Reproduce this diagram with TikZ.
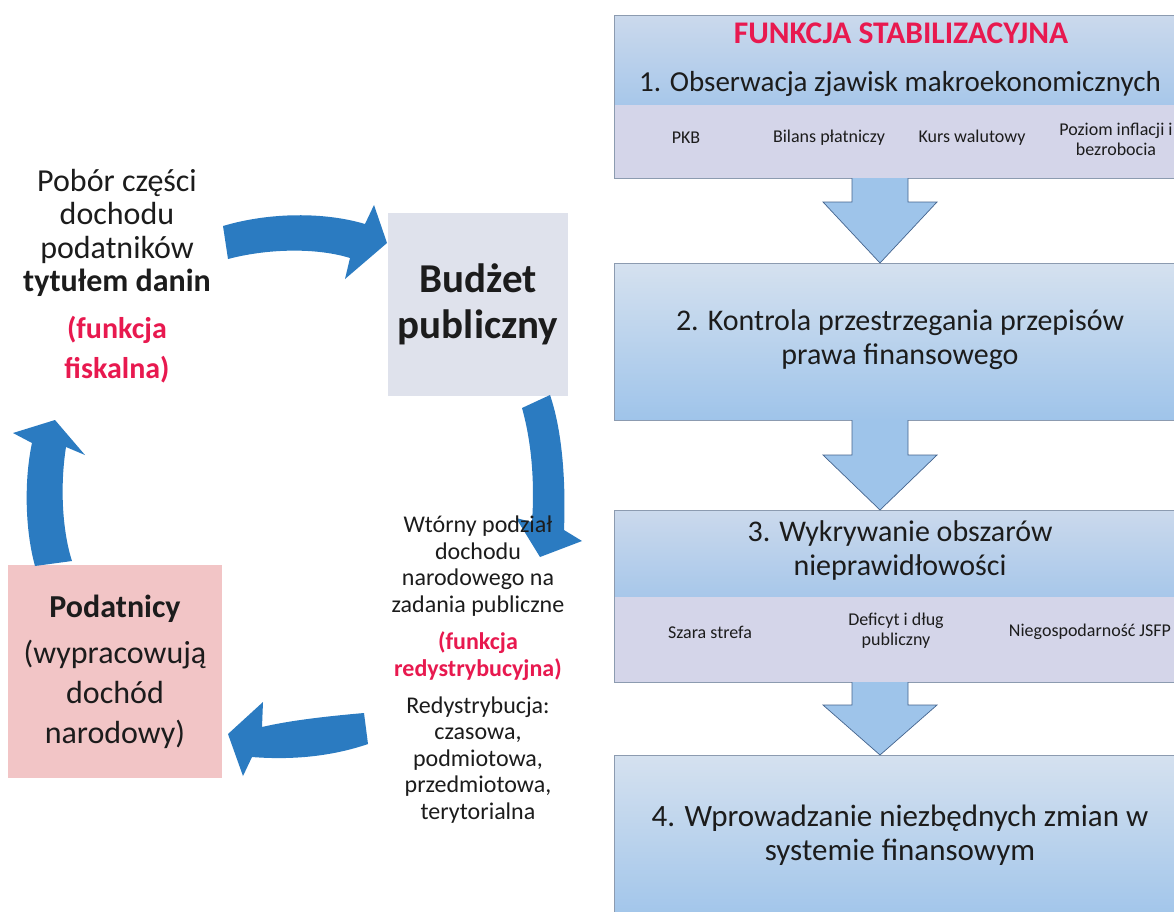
\documentclass[tikz,border=0pt]{standalone}
\usepackage{fontspec}
\setmainfont{Carlito}
\usetikzlibrary{calc}
\definecolor{ink}{HTML}{1C1C1C}
\definecolor{accent}{HTML}{E8194F}
\definecolor{flow}{HTML}{2B7BC1}
\definecolor{budget}{HTML}{DFE2EC}
\definecolor{payers}{HTML}{F2C5C6}
\definecolor{headtop}{HTML}{CBD9EC}
\definecolor{headbot}{HTML}{A7C7EA}
\definecolor{band}{HTML}{D4D5E9}
\definecolor{bodytop}{HTML}{D5E1EF}
\definecolor{bodybot}{HTML}{9FC4EA}
\definecolor{framec}{HTML}{8C9BB0}
\definecolor{stepfill}{HTML}{9EC4EA}
\definecolor{stepline}{HTML}{44648E}
\begin{document}
\begin{tikzpicture}[x=1pt,y=-1pt,
  header/.style={rectangle, anchor=north west, inner sep=0pt, outer sep=0pt,
    minimum width=572pt, top color=headtop, bottom color=headbot},
  bandbox/.style={rectangle, anchor=north west, inner sep=0pt, outer sep=0pt,
    minimum width=572pt, fill=band},
  bodybox/.style={rectangle, anchor=north west, inner sep=0pt, outer sep=0pt,
    minimum width=572pt, top color=bodytop, bottom color=bodybot},
  frame/.style={draw=framec, line width=0.8pt},
  stagetext/.style={font=\fontsize{#1}{34}\selectfont, text=ink, align=center, inner sep=0pt},
  itemtext/.style={font=\fontsize{18}{20}\selectfont, text=ink, align=center, inner sep=0pt},
  titletext/.style={font=\bfseries\fontsize{31.5}{34}\selectfont, text=accent, inner sep=0pt},
  stagearrow/.style={fill=stepfill, draw=stepline, line width=0.7pt, line join=miter},
  flowarrow/.style={fill=flow},
  cycletext/.style={font=\fontsize{32}{33.5}\selectfont, text=ink, align=center, inner sep=0pt},
  cyclered/.style={font=\bfseries\fontsize{30}{40}\selectfont, text=accent, align=center, inner sep=0pt},
  redistext/.style={font=\fontsize{24}{26.5}\selectfont, text=ink, align=center, inner sep=0pt},
  redisred/.style={font=\bfseries\fontsize{24}{26.5}\selectfont, text=accent, align=center, inner sep=0pt},
]
\useasboundingbox (0,0) rectangle (1174,911);
\fill[white] (0,0) rectangle (1174,911);

% ---------- stabilising function: four stages ----------
\node[header, minimum height=90pt] (h1) at (614,15) {};
\node[bandbox, minimum height=73pt] (k1) at (614,105) {};
\draw[frame] (h1.north west) rectangle (k1.south east);

\node[bodybox, minimum height=157pt] (h2) at (614,263) {};
\draw[frame] (h2.north west) rectangle (h2.south east);

\node[header, minimum height=87pt] (h3) at (614,510) {};
\node[bandbox, minimum height=85pt] (k3) at (614,597) {};
\draw[frame] (h3.north west) rectangle (k3.south east);

\node[bodybox, minimum height=170pt] (h4) at (614,755) {};
\draw[frame] (h4.north west) rectangle (h4.south east);

% block arrows between the stages
\foreach \a/\b/\s in {k1/h2/24, h2/h3/35, k3/h4/23} {
  \path ($(\a.south west)+(266,0)$) coordinate (t)
        ($(\b.north west)+(266,0)$) coordinate (p);
  \draw[stagearrow] ($(t)+(-28,0)$) -- ($(t)+(-28,\s)$) -- ($(t)+(-57,\s)$)
     -- (p) -- ($(t)+(57,\s)$) -- ($(t)+(28,\s)$) -- ($(t)+(28,0)$);
}

% stage texts
\node[titletext] (title) at (901,33) {FUNKCJA STABILIZACYJNA};
\node[stagetext=29] (s1) at (900,84) {1. Obserwacja zjawisk makroekonomicznych};
\node[itemtext] (i11) at (686,138) {PKB};
\node[itemtext] (i12) at (829,138) {Bilans płatniczy};
\node[itemtext] (i13) at (972,138) {Kurs walutowy};
\node[itemtext] (i14) at (1116,139) {Poziom inflacji i\\bezrobocia};

\node[stagetext=30] (s2) at (900,340) {2. Kontrola przestrzegania przepisów\\prawa finansowego};

\node[stagetext=30] (s3) at (900,550) {3. Wykrywanie obszarów\\nieprawidłowości};
\node[itemtext] (i31) at (710,632) {Szara strefa};
\node[itemtext] (i32) at (896,631) {Deficyt i dług\\publiczny};
\node[itemtext] (i33) at (1090,632) {Niegospodarność JSFP};

\node[stagetext=31] (s4) at (900,835) {4. Wprowadzanie niezbędnych zmian w\\systemie finansowym};

% ---------- budget cycle ----------
\node[rectangle, fill=budget, minimum width=180pt, minimum height=183pt, inner sep=0pt,
  font=\bfseries\fontsize{41}{46}\selectfont, text=ink, align=center] (budzet) at (478,304.5)
  {Budżet\\publiczny};
\node[rectangle, fill=payers, minimum width=214pt, minimum height=213pt, inner sep=0pt,
  font=\fontsize{32}{40}\selectfont, text=ink, align=center] (podatnicy) at (115,671.5)
  {\textbf{Podatnicy}\\[6pt](wypracowują\\dochód\\narodowy)};

% curved flow arrows
\fill[flowarrow] (223,226) .. controls (270,212) and (325,212) .. (365,224)
  -- (374,205) -- (387,243) -- (345,279) -- (350,258)
  .. controls (318,248) and (270,248) .. (228,259) -- cycle;
\fill[flowarrow] (522,408) -- (550,395) .. controls (562,430) and (566,480) .. (564,530)
  -- (582,541) -- (540,557) -- (516,518) -- (532,522)
  .. controls (535,480) and (531,440) .. (522,408) -- cycle;
\fill[flowarrow] (364,713) .. controls (330,716) and (292,720) .. (262,727)
  -- (263,702) -- (228,734) -- (243,776) -- (252,757)
  .. controls (290,760) and (330,757) .. (368,744) -- cycle;
\fill[flowarrow] (35,566) .. controls (25,530) and (24,480) .. (32,443)
  -- (13,433) -- (55,420) -- (85,455) -- (66,447)
  .. controls (60,485) and (62,530) .. (72,561) -- cycle;

% cycle labels
\node[cycletext] (pobor) at (117,233) {Pobór części\\dochodu\\podatników\\\textbf{tytułem danin}};
\node[cyclered] (fisk) at (117,350) {(funkcja\\fiskalna)};

\node[redistext] (wtorny) at (478,566) {Wtórny podział\\dochodu\\narodowego na\\zadania publiczne};
\node[redisred] (redfun) at (478,656) {(funkcja\\redystrybucyjna)};
\node[redistext] (redys) at (478,760) {Redystrybucja:\\czasowa,\\podmiotowa,\\przedmiotowa,\\terytorialna};
\end{tikzpicture}
\end{document}
